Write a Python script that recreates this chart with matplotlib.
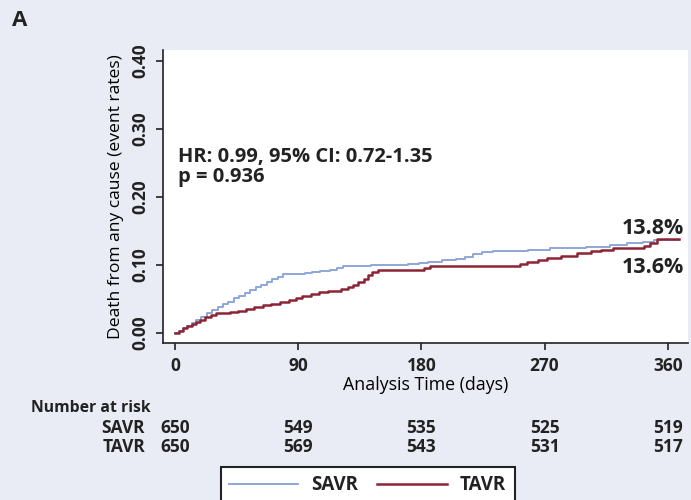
import matplotlib
matplotlib.use("Agg")
import matplotlib.pyplot as plt
from matplotlib.transforms import blended_transform_factory

# Kaplan-Meier cumulative event rates (day, rate)
savr_days = [0, 3, 6, 9, 12, 15, 19, 23, 27, 31, 35, 39, 43, 47, 51, 55, 59, 63,
             67, 71, 75, 79, 95, 100, 106, 113, 118, 123, 133, 143, 170, 178, 185,
             195, 205, 212, 218, 224, 232, 258, 274, 300, 318, 330, 342, 350]
savr_rate = [0.0, 0.003, 0.007, 0.011, 0.015, 0.019, 0.024, 0.029, 0.034, 0.038,
             0.042, 0.046, 0.051, 0.055, 0.059, 0.063, 0.067, 0.071, 0.075, 0.079,
             0.083, 0.087, 0.088, 0.090, 0.091, 0.093, 0.095, 0.098, 0.099, 0.100,
             0.101, 0.103, 0.105, 0.107, 0.109, 0.112, 0.116, 0.119, 0.121, 0.122,
             0.125, 0.127, 0.130, 0.132, 0.134, 0.136]

tavr_days = [0, 3, 6, 9, 12, 15, 18, 22, 26, 30, 40, 46, 52, 58, 64, 70, 77, 83,
             88, 93, 99, 105, 112, 121, 126, 130, 134, 138, 141, 144, 148, 182, 186,
             252, 257, 265, 272, 282, 294, 304, 311, 320, 343, 347, 352]
tavr_rate = [0.0, 0.003, 0.007, 0.010, 0.013, 0.016, 0.019, 0.023, 0.026, 0.029,
             0.031, 0.033, 0.036, 0.038, 0.041, 0.043, 0.046, 0.049, 0.052, 0.055,
             0.058, 0.060, 0.062, 0.065, 0.068, 0.071, 0.075, 0.080, 0.085, 0.089,
             0.093, 0.096, 0.099, 0.101, 0.105, 0.108, 0.110, 0.113, 0.117, 0.120,
             0.122, 0.125, 0.128, 0.132, 0.138]

follow_up_end = 368

risk_days = [0, 90, 180, 270, 360]
risk_savr = [650, 549, 535, 525, 519]
risk_tavr = [650, 569, 543, 531, 517]

final_labels = ["13.8%", "13.6%"]

BG = "#e9ecf4"
BLUE = "#8ea6d8"
RED = "#8c2435"
INK = "#222222"

plt.rcParams["font.family"] = ["Open Sans", "DejaVu Sans"]
plt.rcParams["font.weight"] = "bold"
plt.rcParams["text.color"] = INK

fig = plt.figure(figsize=(6.91, 5.0), dpi=100, facecolor=BG)
ax = fig.add_axes([0.236, 0.314, 0.76, 0.586])
ax.set_facecolor("white")

ax.step(savr_days + [follow_up_end], savr_rate + [savr_rate[-1]], where="post",
        color=BLUE, lw=1.4, label="SAVR")
ax.step(tavr_days + [follow_up_end], tavr_rate + [tavr_rate[-1]], where="post",
        color=RED, lw=1.8, label="TAVR")

ax.set_xlim(-8.8, 375)
ax.set_ylim(-0.0147, 0.416)
ax.set_xticks(risk_days)
ax.set_yticks([0.0, 0.1, 0.2, 0.3, 0.4])
ax.set_yticklabels(["0.00", "0.10", "0.20", "0.30", "0.40"], rotation=90, va="center")
ax.tick_params(axis="both", colors=INK, labelsize=12.5, length=5, width=1.2)
ax.tick_params(axis="y", pad=5)
ax.tick_params(axis="x", pad=5)

for side in ["top", "right"]:
    ax.spines[side].set_visible(False)
for side in ["left", "bottom"]:
    ax.spines[side].set_color(INK)
    ax.spines[side].set_linewidth(1.2)

ax.set_ylabel("Death from any cause (event rates)", fontsize=12.6, labelpad=5)
ax.set_xlabel("Analysis Time (days)", fontsize=12.8, labelpad=1)

ax.text(2, 0.259, "HR: 0.99, 95% CI: 0.72-1.35", fontsize=14.5, va="center")
ax.text(2, 0.229, "p = 0.936", fontsize=14.5, va="center")

ax.text(372, 0.154, final_labels[0], fontsize=15.5, ha="right", va="center", clip_on=False)
ax.text(372, 0.096, final_labels[1], fontsize=15.5, ha="right", va="center", clip_on=False)

fig.text(0.017, 0.958, "A", fontsize=16, fontweight="bold", va="center")

# number-at-risk table under the x axis
tr = blended_transform_factory(ax.transData, fig.transFigure)
fig.text(0.045, 0.184, "Number at risk", fontsize=11.3, va="center")
fig.text(0.21, 0.144, "SAVR", fontsize=12.5, ha="right", va="center")
fig.text(0.21, 0.106, "TAVR", fontsize=12.5, ha="right", va="center")
for d, s, t in zip(risk_days, risk_savr, risk_tavr):
    ax.text(d, 0.144, str(s), transform=tr, fontsize=12.5, ha="center", va="center")
    ax.text(d, 0.106, str(t), transform=tr, fontsize=12.5, ha="center", va="center")

leg = fig.legend(loc="upper center", bbox_to_anchor=(0.532, 0.066), ncol=2,
                 fontsize=13.5, handlelength=3.7, handletextpad=0.7, columnspacing=1.0,
                 borderaxespad=0, borderpad=0.45,
                 fancybox=False, framealpha=1, edgecolor=INK)
leg.get_frame().set_linewidth(1.5)

fig.savefig("out.png", dpi=100, facecolor=BG)
